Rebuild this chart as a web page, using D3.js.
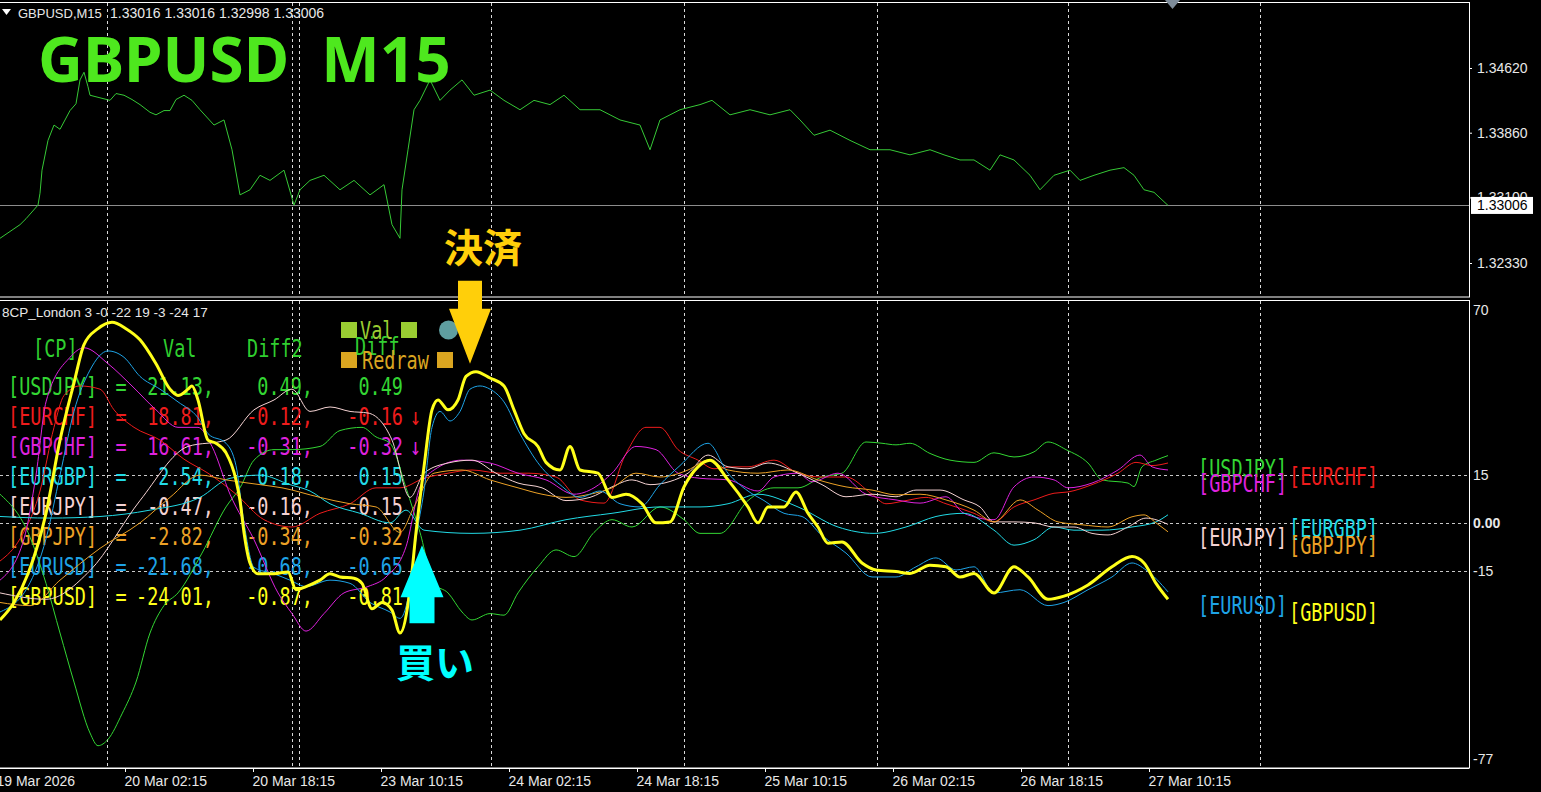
<!DOCTYPE html>
<html><head><meta charset="utf-8">
<script src="https://cdn.jsdelivr.net/npm/d3@7"></script>
<style>
html,body{margin:0;padding:0;background:#000;overflow:hidden;}
svg{display:block;}
</style></head><body>
<svg id="chart" width="1541" height="792"></svg>
<script>
// ---------------- DATA ----------------
const symbolTitle = "GBPUSD  M15";
const headerText = "GBPUSD,M15";
const ohlcText = "1.33016 1.33016 1.32998 1.33006";
const indicatorName = "8CP_London 3 -0 -22 19 -3 -24 17";
const lastPrice = 1.33006;
const priceTicks = [1.34620, 1.33860, 1.33100, 1.32330];
const indTicks = [70, 15, 0, -15, -77];
const levels = [15, 0, -15];
const sepBars = [53.5, 146, 149.5, 245.5, 342, 438.5, 534, 630];
const timeTickBars = [-1.5, 62.5, 126.5, 190.5, 254.5, 318.5, 382.5, 446.5, 510.5, 574.5];
const timeTickLabels = ["19 Mar 2026","20 Mar 02:15","20 Mar 18:15","23 Mar 10:15","24 Mar 02:15","24 Mar 18:15","25 Mar 10:15","26 Mar 02:15","26 Mar 18:15","27 Mar 10:15"];

// GBPUSD M15 close (bar index, price)
const price = [[0,1.3262],[5,1.3270],[10,1.3278],[13,1.3285],[19,1.3301],[20,1.3315],[21,1.3342],[24,1.3377],[27,1.3395],[30,1.3390],[35,1.3412],[38,1.3420],[40,1.3448],[42,1.3457],[44,1.3440],[45,1.3430],[50,1.3427],[55,1.3424],[58,1.3432],[62,1.3430],[66,1.3425],[70,1.3419],[75,1.3410],[78,1.3407],[82,1.3412],[85,1.3412],[88,1.3425],[92,1.3430],[96,1.3424],[100,1.3413],[107,1.3395],[112,1.3401],[116,1.3366],[120,1.3313],[125,1.3319],[130,1.3336],[135,1.3330],[142,1.3342],[147,1.3301],[150,1.3319],[155,1.3330],[162,1.3336],[170,1.3319],[177,1.3330],[185,1.3313],[192,1.3325],[196,1.3278],[200,1.3262],[201,1.3319],[204,1.3366],[207,1.3413],[210,1.3424],[215,1.3448],[220,1.3424],[225,1.3436],[231,1.3448],[237,1.3430],[245,1.3436],[252,1.3424],[260,1.3413],[267,1.3424],[275,1.3419],[282,1.3430],[290,1.3413],[300,1.3413],[310,1.3401],[320,1.3395],[325,1.3366],[330,1.3401],[340,1.3413],[350,1.3419],[356,1.3424],[365,1.3407],[375,1.3413],[385,1.3407],[395,1.3413],[400,1.3401],[407,1.3383],[415,1.3389],[425,1.3377],[435,1.3366],[445,1.3366],[455,1.3360],[465,1.3366],[472,1.3360],[480,1.3354],[487,1.3354],[495,1.3342],[500,1.3360],[507,1.3354],[515,1.3336],[520,1.3319],[527,1.3336],[535,1.3342],[540,1.3330],[547,1.3336],[555,1.3342],[562,1.3345],[567,1.3336],[572,1.3319],[577,1.3316],[584,1.33006]];

// indicator series (bar index, value)
const usdjpy = [[0,9],[14,-3],[23,-19],[30,-34.6],[37,-50],[45,-66],[49,-70],[54,-68],[61,-60],[68,-50],[75,-34.6],[82,-26],[89,-22],[101,-9.5],[113,5],[120,11],[127,19.7],[137,23],[146,23],[160,24],[170,29],[181,30],[188,27],[195,25],[203,11],[210,-3],[217,-19],[224,-22],[231,-28],[236,-30.5],[245,-28.5],[252,-29],[259,-22],[269,-13.8],[278,-8.5],[287,-10.6],[297,-3],[306,1],[316,-1.3],[330,5],[342,1],[350,-3.3],[360,-3.3],[374,7],[387,11],[399,11],[411,14.4],[421,15.6],[433,25.4],[441,25],[448,24.5],[455,25],[465,21.8],[475,19.7],[487,19],[497,22],[507,20.7],[517,22.3],[524,25.4],[533,23],[544,18.8],[551,13.5],[564,12.5],[567,11.4],[571,17.6],[578,19.7],[584,21.13]];
const eurchf = [[0,-12],[10,-5],[20,10],[27,30],[32,40],[40,43],[50,42],[57,35.5],[67,30],[80,26],[92,20],[104,15.6],[118,9],[132,1],[146,-1.3],[160,3],[175,6],[188,11],[200,11],[212,14],[224,15.6],[236,16.6],[250,15.6],[264,15.6],[278,14.4],[290,7.2],[302,6.2],[313,21.8],[323,30],[330,30],[339,23],[349,19.7],[357,17],[367,17.6],[374,17.6],[387,19.7],[399,15.6],[411,14.4],[423,14.4],[436,9],[443,6],[453,7],[463,8],[473,6],[487,3],[497,0.3],[507,5],[517,7.2],[527,9.3],[534,9.7],[546,12],[559,15.6],[568,19],[576,18],[584,18.81]];
const gbpchf = [[0,-18],[12,-5],[18,15],[23,38],[35,52],[42,55],[54,50],[66,43],[78,35.5],[89,30],[99,30],[106,24],[115,9],[127,-5.3],[139,-22],[146,-28.5],[153,-34],[162,-28.5],[172,-22],[184,-20],[193,-17],[203,-7.5],[210,11.3],[217,16.6],[231,19.7],[245,18.8],[259,15.6],[273,13.5],[287,9],[297,11],[306,15.6],[318,24],[328,23],[339,15.6],[350,14],[364,13.5],[379,10],[387,14.4],[399,15.6],[406,12.9],[419,15.6],[433,9],[448,7.2],[460,6.2],[473,8.2],[482,3],[497,1],[507,11.3],[517,14.4],[527,13.5],[534,11],[546,12.5],[559,16.6],[570,21.3],[576,17.6],[584,16.61]];
const eurgbp = [[0,2],[25,1.5],[50,2],[75,4],[100,8],[115,14],[130,15],[145,12],[155,10],[165,6],[180,3],[195,0],[203,4],[212,-2.3],[236,-3.3],[260,-2.3],[283,1],[306,3],[330,5],[350,5],[364,6],[379,9],[399,5],[419,-1.3],[437,-3.3],[453,-1.3],[468,2],[482,3],[497,-2.3],[507,-7],[517,-5.3],[527,-1.3],[537,-2.3],[551,-2.3],[566,-1.3],[578,0.3],[584,2.54]];
const eurjpy = [[0,-22],[23,-24],[45,-15],[70,7],[94,24],[113,26],[127,35.5],[137,38.6],[146,42],[155,35],[165,36.4],[175,35],[184,34.5],[196,26],[205,8],[212,15.6],[224,18.8],[236,19.7],[248,15.6],[259,12.5],[271,11],[283,7],[295,8],[306,11.3],[316,13.5],[325,12],[335,13],[344,15.6],[354,21.3],[364,17.6],[374,17],[384,18.8],[399,15.6],[411,12],[423,8.2],[436,9],[448,8.2],[458,10.3],[470,10.3],[482,7.2],[490,5],[497,0.3],[507,0.3],[517,0],[527,-1.3],[537,-1.3],[546,-3.3],[554,-3.8],[564,-1.3],[573,1.5],[584,-0.47]];
const gbpjpy = [[0,-25],[15,-26],[30,-18],[50,-8],[70,0],[85,8],[100,15],[113,13.5],[130,12],[141,11],[160,8],[175,6],[188,5],[200,-3],[207,5],[217,15.6],[231,16.6],[245,13.5],[259,11],[271,9],[283,8],[295,9],[306,11],[318,15.6],[330,14.4],[344,16.6],[354,19.7],[364,16.6],[379,15.6],[394,16.6],[409,13.5],[423,11.3],[436,10.3],[448,8.8],[460,9],[473,7.2],[487,4],[497,0.3],[510,7.2],[519,4],[529,0.3],[541,-0.6],[554,-1.3],[566,1.9],[572,2.5],[578,0],[584,-2.82]];
const eurusd = [[0,-28],[14,-20],[23,-5],[30,15],[37,35],[45,48],[54,54],[62,52],[70,46],[80,42],[89,38],[99,33],[104,28],[113,25],[118,18],[122,0],[127,-14],[137,-16],[145,-18],[153,-20],[165,-18],[175,-19],[185,-25],[195,-28],[200,-30],[205,-20],[208,-5],[212,10],[216,30],[220,35],[225,32],[230,35],[235,42],[240,43],[245,42],[252,38],[260,28],[270,18],[280,12],[290,8],[300,10],[310,6],[320,5],[330,12],[340,18],[354,25],[364,15.6],[374,10],[382,7],[392,3],[401,2],[411,-4],[423,-9.5],[436,-17],[448,-17],[458,-13.8],[468,-11],[478,-14.8],[487,-13.8],[497,-22],[510,-21],[524,-26],[532,-25],[544,-21],[556,-17],[566,-12.6],[573,-14.8],[584,-21.68]];
const gbpusd = [[0,-30.5],[7,-25],[14,-16],[23,3],[30,26],[37,44],[42,56],[49,61],[56,63],[63,61],[70,57.5],[78,50],[85,42],[89,40],[94,42],[96,43],[99,38.6],[104,26],[108,25],[113,22],[118,13.5],[120,7],[122,-3],[125,-12.6],[129,-16],[137,-16],[144,-15.4],[148,-21],[153,-20],[160,-18],[165,-16],[170,-17],[177,-17.4],[181,-19],[186,-27],[191,-25],[196,-27.4],[200,-34.6],[205,-21],[208,-3],[212,17.6],[216,35.5],[219,38.6],[224,35.5],[229,38.6],[233,46],[238,47.5],[245,45.5],[252,43],[257,35.5],[262,28],[269,24],[273,19],[280,16.6],[285,24],[290,16.6],[299,15.6],[306,8],[313,9],[321,6],[328,0],[335,0.3],[342,11.3],[349,17.6],[355,19.7],[364,13.5],[374,5],[379,0],[384,5],[392,5],[398,9.7],[404,3],[409,-1.3],[414,-6.4],[421,-6],[431,-12.6],[438,-14.8],[448,-15.3],[455,-15.9],[465,-13.3],[473,-13.8],[480,-17],[487,-15.9],[497,-22],[507,-13.8],[514,-17],[524,-24],[532,-23],[544,-19.5],[556,-13.8],[566,-10.6],[572,-12.6],[578,-19],[584,-24.01]];

const cpNames = ["USDJPY","EURCHF","GBPCHF","EURGBP","EURJPY","GBPJPY","EURUSD","GBPUSD"];
const cpSeries = [usdjpy, eurchf, gbpchf, eurgbp, eurjpy, gbpjpy, eurusd, gbpusd];
const cpVal   = [21.13, 18.81, 16.61, 2.54, -0.47, -2.82, -21.68, -24.01];
const cpDiff2 = [0.49, -0.12, -0.31, 0.18, -0.16, -0.34, -0.68, -0.87];
const cpDiff  = [0.49, -0.16, -0.32, 0.15, -0.15, -0.32, -0.65, -0.81];
const cpArrow = ["", "↓", "↓", "", "", "", "", ""];
const tableHeader = ["[CP]", "Val", "Diff2"];

const buySignal = {bar: 211, val: -7, label: "買い"};
const exitSignal = {bar: 235, val: 50, label: "決済"};

// ---------------- STYLE ----------------
const cpColors = ["#33d633","#ee1c1c","#de22de","#22dbe6","#f4d2d2","#eca126","#1ea3e6","#ffff1a"];
const cpWidths = [1,1,1,1,1,1,1,3];
const gridCol = "#d8d8d8";
const txtCol = "#e8e8e8";
const sansFont = '"Liberation Sans", Arial, sans-serif';
const monoFont = '"DejaVu Sans Mono", monospace';

// ---------------- SETUP ----------------
const W = 1541, H = 792, plotRight = 1469;
const svg = d3.select("#chart");
svg.append("rect").attr("width", W).attr("height", H).attr("fill", "#000");

const x = d3.scaleLinear().domain([0, 734.5]).range([0, plotRight]);
const yP = d3.scaleLinear().domain([1.32330, 1.34620]).range([263, 68]);
const yI = d3.scaleLinear().domain([-77, 70]).range([768, 300]);

const defs = svg.append("defs");
defs.append("clipPath").attr("id","clipTop").append("rect").attr("x",0).attr("y",3).attr("width",plotRight).attr("height",294);
defs.append("clipPath").attr("id","clipInd").append("rect").attr("x",0).attr("y",301).attr("width",plotRight).attr("height",467);

// frames
svg.append("rect").attr("x",-1).attr("y",2.5).attr("width",plotRight+1.5).attr("height",294.5)
  .attr("fill","none").attr("stroke","#fff").attr("stroke-width",1);
svg.append("rect").attr("x",-1).attr("y",300.5).attr("width",plotRight+1.5).attr("height",467.5)
  .attr("fill","none").attr("stroke","#fff").attr("stroke-width",1);

// vertical separators
const sepG = svg.append("g");
sepBars.forEach(b => {
  const xx = Math.round(x(b)) + 0.5;
  sepG.append("line").attr("x1",xx).attr("x2",xx).attr("y1",3).attr("y2",297)
    .attr("stroke",gridCol).attr("stroke-dasharray","3,3");
  sepG.append("line").attr("x1",xx).attr("x2",xx).attr("y1",301).attr("y2",768)
    .attr("stroke",gridCol).attr("stroke-dasharray","3,3");
});

// horizontal levels
levels.forEach(l => {
  const yy = Math.round(yI(l)) + 0.5;
  svg.append("line").attr("x1",0).attr("x2",plotRight).attr("y1",yy).attr("y2",yy)
    .attr("stroke","#c8c8c8").attr("stroke-dasharray","3,3");
});

// ---------------- TOP PANE ----------------
const yLast = Math.round(yP(lastPrice)) + 0.5;
svg.append("line").attr("x1",0).attr("x2",plotRight).attr("y1",yLast).attr("y2",yLast).attr("stroke","#8c8c8c");

svg.append("path").datum(price).attr("clip-path","url(#clipTop)")
  .attr("fill","none").attr("stroke","#36c936").attr("stroke-width",1)
  .attr("d", d3.line().x(d => x(d[0])).y(d => yP(d[1])));

// price axis
const pAxis = svg.append("g").attr("transform",`translate(${plotRight},0)`)
  .call(d3.axisRight(yP).tickValues(priceTicks).tickSize(3).tickPadding(5).tickFormat(d3.format(".5f")));
pAxis.select(".domain").remove();
pAxis.selectAll("line").attr("stroke","#fff");
pAxis.selectAll("text").attr("fill",txtCol).style("font-family",sansFont).style("font-size","14px");

// last price box
svg.append("rect").attr("x",plotRight+2).attr("y",yP(lastPrice)-8.5).attr("width",62).attr("height",17).attr("fill","#fff");
svg.append("text").attr("x",plotRight+8).attr("y",yP(lastPrice)).attr("dy","0.35em")
  .attr("fill","#000").style("font-family",sansFont).style("font-size","14px").text(d3.format(".5f")(lastPrice));

// header
svg.append("path").attr("d","M2,9 L11,9 L6.5,15 Z").attr("fill","#fff");
svg.append("text").attr("x",18).attr("y",13).attr("dy","0.35em").attr("fill",txtCol)
  .style("font-family",sansFont).style("font-size","13px").text(headerText);
svg.append("text").attr("x",110).attr("y",13).attr("dy","0.35em").attr("fill",txtCol)
  .style("font-family",sansFont).style("font-size","14px").text(ohlcText);

// shift marker
svg.append("path").attr("d","M1165,0 L1180,0 L1172.5,9 Z").attr("fill","#7d8b99");

// title
svg.append("text").attr("x",38).attr("y",82).attr("fill","#4ee81e")
  .style("font-family",'"Noto Sans", "Open Sans", sans-serif').style("font-weight","bold")
  .style("font-size","62px").style("white-space","pre").text(symbolTitle);

// ---------------- INDICATOR PANE ----------------
svg.append("text").attr("x",2).attr("y",312).attr("dy","0.35em").attr("fill",txtCol)
  .style("font-family",sansFont).style("font-size","13.5px").text(indicatorName);

const SY = 1.3, FS = 18.5;
function mono(parent, str, xp, yc, color, anchor) {
  parent.append("text")
    .attr("transform",`translate(${xp},${yc}) scale(1,${SY})`)
    .attr("y", 0.365*FS)
    .attr("text-anchor", anchor || "start")
    .attr("fill", color)
    .style("font-family", monoFont).style("font-size", FS+"px")
    .style("white-space","pre")
    .text(str);
}

// buttons
const btn = svg.append("g");
btn.append("rect").attr("x",341).attr("y",322).attr("width",16).attr("height",16).attr("fill","#9acd32");
btn.append("rect").attr("x",401).attr("y",322).attr("width",16).attr("height",16).attr("fill","#9acd32");
btn.append("rect").attr("x",341).attr("y",352).attr("width",16).attr("height",16).attr("fill","#daa520");
btn.append("rect").attr("x",437).attr("y",352).attr("width",16).attr("height",16).attr("fill","#daa520");
mono(btn, "Val", 360, 330, "#9acd32");
mono(btn, "Diff", 355, 346, "#32cd32");
mono(btn, "Redraw", 362, 360, "#daa520");
btn.append("circle").attr("cx",448.5).attr("cy",330).attr("r",9.5).attr("fill","#5f9ea0");

// table
const tbl = svg.append("g");
mono(tbl, tableHeader[0], 33, 348, "#2fcf2f");
mono(tbl, tableHeader[1], 163, 348, "#2fcf2f");
mono(tbl, tableHeader[2], 247, 348, "#2fcf2f");
cpNames.forEach((n, i) => {
  const yc = 386 + i*30.1;
  const c = cpColors[i];
  mono(tbl, "[" + n + "]", 8, yc, c);
  mono(tbl, "=", 121, yc, c, "middle");
  mono(tbl, cpVal[i].toFixed(2) + ",", 214, yc, c, "end");
  mono(tbl, cpDiff2[i].toFixed(2) + ",", 313, yc, c, "end");
  mono(tbl, cpDiff[i].toFixed(2), 403, yc, c, "end");
  if (cpArrow[i]) mono(tbl, cpArrow[i], 410, yc, c);
});

// series lines
const lineGen = d3.line().x(d => x(d[0])).y(d => yI(d[1])).curve(d3.curveMonotoneX);
const linesG = svg.append("g").attr("clip-path","url(#clipInd)");
cpSeries.forEach((s, i) => {
  linesG.append("path").datum(s).attr("fill","none")
    .attr("stroke", cpColors[i]).attr("stroke-width", cpWidths[i])
    .attr("stroke-linejoin","round").attr("d", lineGen);
});

// legend labels at last values
cpNames.forEach((n, i) => {
  const last = cpSeries[i][cpSeries[i].length-1][1];
  const xp = (i % 2 === 0) ? 1198 : 1289;
  mono(svg, "[" + n + "]", xp, yI(last) + 13, cpColors[i]);
});

// indicator axis labels
indTicks.forEach(t => {
  let yy = yI(t);
  if (t === indTicks[0]) yy += 10;
  if (t === indTicks[indTicks.length-1]) yy -= 9;
  svg.append("text").attr("x", plotRight+4).attr("y", yy).attr("dy","0.35em")
    .attr("fill", txtCol).style("font-family",sansFont).style("font-size","14px")
    .style("font-weight", t === 0 ? "bold" : "normal")
    .text(t === 0 ? "0.00" : String(t));
});

// time axis
const tAxis = svg.append("g").attr("transform","translate(0,768)")
  .call(d3.axisBottom(x).tickValues(timeTickBars).tickSize(4).tickPadding(4)
    .tickFormat((d, i) => timeTickLabels[i]));
tAxis.select(".domain").attr("stroke","#fff").attr("d",`M0,0.5H${plotRight}`);
tAxis.selectAll("line").attr("stroke","#fff");
tAxis.selectAll("text").attr("fill",txtCol).attr("text-anchor","start").attr("dx","-1")
  .style("font-family",sansFont).style("font-size","14px");

// ---------------- SIGNALS ----------------
function arrowPath(tx, ty, dir, headW, headH, shaftW, shaftL) {
  const hb = ty - dir*headH, se = hb - dir*shaftL;
  return `M${tx},${ty} L${tx+headW},${hb} L${tx+shaftW},${hb} L${tx+shaftW},${se} L${tx-shaftW},${se} L${tx-shaftW},${hb} L${tx-headW},${hb} Z`;
}
const jpFont = '"Noto Sans CJK JP", sans-serif';
// exit (down arrow)
{
  const tx = x(exitSignal.bar), ty = yI(exitSignal.val);
  svg.append("path").attr("d", arrowPath(tx, ty, 1, 21, 55, 12, 28)).attr("fill","#ffcf0a");
  svg.append("text").attr("x", tx+13).attr("y", ty-119).attr("text-anchor","middle")
    .attr("dominant-baseline","central").attr("fill","#ffcf0a")
    .style("font-family",jpFont).style("font-weight","bold").style("font-size","39px").text(exitSignal.label);
}
// buy (up arrow)
{
  const tx = x(buySignal.bar), ty = yI(buySignal.val);
  svg.append("path").attr("d", arrowPath(tx, ty, -1, 21.5, 52, 12.5, 26)).attr("fill","#00ffff");
  svg.append("text").attr("x", tx+13).attr("y", ty+115).attr("text-anchor","middle")
    .attr("dominant-baseline","central").attr("fill","#00ffff")
    .style("font-family",jpFont).style("font-weight","bold").style("font-size","39px").text(buySignal.label);
}
</script>
</body></html>
